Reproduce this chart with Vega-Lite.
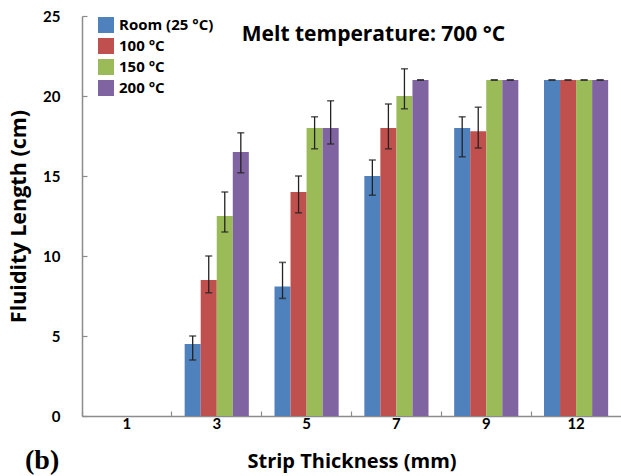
{
  "$schema": "https://vega.github.io/schema/vega-lite/v6.json",
  "width": 539,
  "height": 400,
  "autosize": {"type": "none"},
  "padding": {"left": 82, "top": 16, "right": 0, "bottom": 60},
  "background": "white",
  "config": {"view": {"stroke": null}, "font": "Lato"},
  "title": {"text": "(b)", "orient": "bottom", "anchor": "start", "frame": "group", "font": "Liberation Serif", "fontSize": 28, "fontWeight": "bold", "color": "black", "dx": -57, "offset": -24},
  "data": {"values": [
    {"t": "1", "s": "Room (25 °C)", "v": 0, "lo": null, "hi": null},
    {"t": "1", "s": "100 °C", "v": 0, "lo": null, "hi": null},
    {"t": "1", "s": "150 °C", "v": 0, "lo": null, "hi": null},
    {"t": "1", "s": "200 °C", "v": 0, "lo": null, "hi": null},
    {"t": "3", "s": "Room (25 °C)", "v": 4.5, "lo": 3.5, "hi": 5.0},
    {"t": "3", "s": "100 °C", "v": 8.5, "lo": 7.7, "hi": 10.0},
    {"t": "3", "s": "150 °C", "v": 12.5, "lo": 11.5, "hi": 14.0},
    {"t": "3", "s": "200 °C", "v": 16.5, "lo": 15.2, "hi": 17.7},
    {"t": "5", "s": "Room (25 °C)", "v": 8.1, "lo": 7.35, "hi": 9.6},
    {"t": "5", "s": "100 °C", "v": 14.0, "lo": 12.7, "hi": 15.0},
    {"t": "5", "s": "150 °C", "v": 18.0, "lo": 16.7, "hi": 18.7},
    {"t": "5", "s": "200 °C", "v": 18.0, "lo": 17.0, "hi": 19.7},
    {"t": "7", "s": "Room (25 °C)", "v": 15.0, "lo": 13.8, "hi": 16.0},
    {"t": "7", "s": "100 °C", "v": 18.0, "lo": 16.7, "hi": 19.5},
    {"t": "7", "s": "150 °C", "v": 20.0, "lo": 19.2, "hi": 21.7},
    {"t": "7", "s": "200 °C", "v": 21.0, "lo": 21.0, "hi": 21.0},
    {"t": "9", "s": "Room (25 °C)", "v": 18.0, "lo": 16.2, "hi": 18.7},
    {"t": "9", "s": "100 °C", "v": 17.8, "lo": 16.75, "hi": 19.3},
    {"t": "9", "s": "150 °C", "v": 21.0, "lo": 21.0, "hi": 21.0},
    {"t": "9", "s": "200 °C", "v": 21.0, "lo": 21.0, "hi": 21.0},
    {"t": "12", "s": "Room (25 °C)", "v": 21.0, "lo": 21.0, "hi": 21.0},
    {"t": "12", "s": "100 °C", "v": 21.0, "lo": 21.0, "hi": 21.0},
    {"t": "12", "s": "150 °C", "v": 21.0, "lo": 21.0, "hi": 21.0},
    {"t": "12", "s": "200 °C", "v": 21.0, "lo": 21.0, "hi": 21.0}
  ]},
  "encoding": {
    "x": {"field": "t", "type": "ordinal", "sort": ["1", "3", "5", "7", "9", "12"],
      "scale": {"paddingInner": 0, "paddingOuter": 0},
      "axis": {"title": "Strip Thickness (mm)", "labelAngle": 0, "bandPosition": 0,
        "domainColor": "#8c8c8c", "domainWidth": 1.5, "tickColor": "#8c8c8c", "tickSize": -5, "tickWidth": 1.2,
        "labelFont": "Lato", "labelFontSize": 15, "labelFontWeight": "bold", "labelColor": "black", "labelPadding": 5,
        "titleFont": "Open Sans", "titleFontSize": 20, "titleFontWeight": "bold", "titleColor": "black", "titlePadding": 20}},
    "xOffset": {"field": "s", "type": "nominal", "sort": ["Room (25 °C)", "100 °C", "150 °C", "200 °C"],
      "scale": {"paddingInner": 0, "paddingOuter": 0.8}}
  },
  "layer": [
    {
      "mark": {"type": "bar"},
      "encoding": {
        "y": {"field": "v", "type": "quantitative", "scale": {"domain": [0, 25], "nice": false},
          "axis": {"title": "Fluidity Length (cm)", "values": [0, 5, 10, 15, 20, 25], "grid": false,
            "domainColor": "#8c8c8c", "domainWidth": 1.5, "tickColor": "#8c8c8c", "tickSize": -5, "tickWidth": 1.2,
            "labelFont": "Lato", "labelFontSize": 15, "labelFontWeight": "bold", "labelColor": "black", "labelPadding": 27,
            "titleFont": "Open Sans", "titleFontSize": 21.5, "titleFontWeight": "bold", "titleColor": "black", "titlePadding": 12}},
        "color": {"field": "s", "type": "nominal", "sort": ["Room (25 °C)", "100 °C", "150 °C", "200 °C"],
          "scale": {"domain": ["Room (25 °C)", "100 °C", "150 °C", "200 °C"], "range": ["#4F81BD", "#C0504D", "#9BBB59", "#8064A2"]},
          "legend": {"orient": "none", "legendX": 16, "legendY": 1, "title": null, "padding": 0,
            "symbolType": "square", "symbolSize": 256, "symbolStrokeWidth": 0, "symbolOpacity": 1,
            "labelFont": "Open Sans", "labelFontSize": 15, "labelFontWeight": "bold", "labelColor": "black",
            "rowPadding": 5, "labelOffset": 5}}
      }
    },
    {
      "transform": [{"filter": "datum.lo != null"}],
      "mark": {"type": "rule", "color": "#222222", "strokeWidth": 1.3},
      "encoding": {"y": {"field": "lo", "type": "quantitative"}, "y2": {"field": "hi"}}
    },
    {
      "transform": [{"filter": "datum.lo != null"}],
      "mark": {"type": "tick", "color": "#222222", "size": 7, "thickness": 1.6},
      "encoding": {"y": {"field": "lo", "type": "quantitative"}}
    },
    {
      "transform": [{"filter": "datum.hi != null"}],
      "mark": {"type": "tick", "color": "#222222", "size": 7, "thickness": 1.6},
      "encoding": {"y": {"field": "hi", "type": "quantitative"}}
    },
    {
      "data": {"values": [{"t": "7", "label": "Melt temperature: 700 °C", "y": 23.8}]},
      "mark": {"type": "text", "font": "Open Sans", "fontSize": 21, "fontWeight": "bold", "color": "black", "align": "center", "baseline": "middle", "dx": 22},
      "encoding": {"x": {"field": "t", "type": "ordinal"}, "y": {"field": "y", "type": "quantitative"}, "text": {"field": "label"}, "xOffset": {"value": 0}}
    }
  ]
}
